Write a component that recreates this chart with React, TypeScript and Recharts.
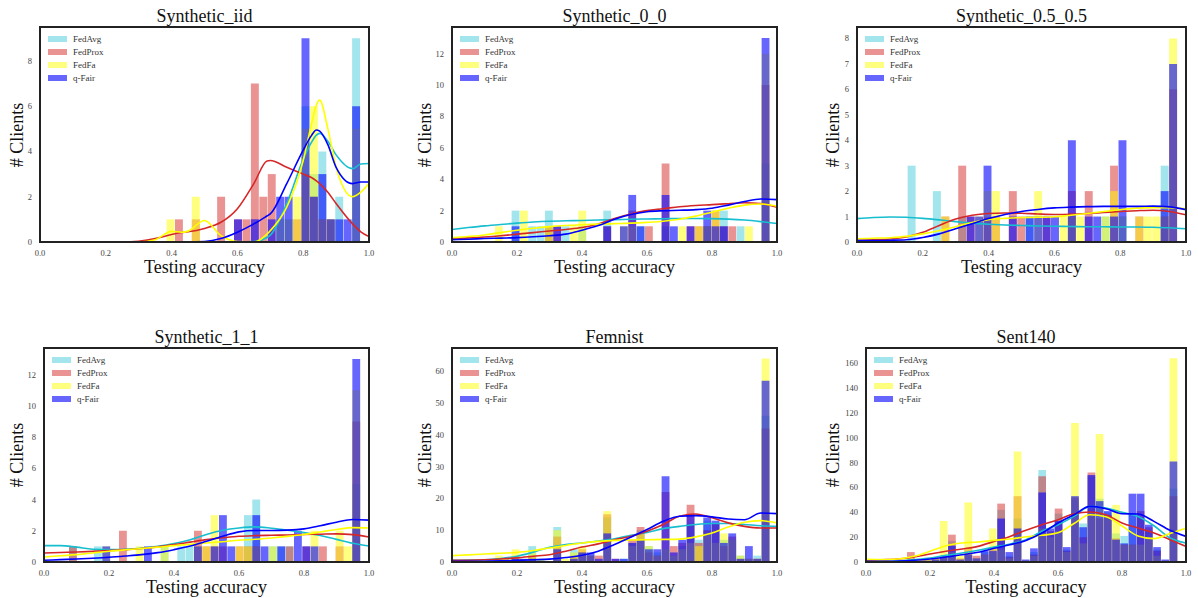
import React from 'react';
import { ComposedChart, Bar, Line, XAxis, YAxis } from 'recharts';

const SERIF = '"Liberation Serif", "DejaVu Serif", "Times New Roman", serif';
const SERIES = ['FedAvg', 'FedProx', 'FedFa', 'q-Fair'];
const KEYS = ['a', 'p', 'f', 'q'];
const COLORS = ['#17becf', '#d62728', '#ffff00', '#0000ff'];
const ALPHAS = [0.4, 0.5, 0.5, 0.6];
const X_TICKS = [0, 0.2, 0.4, 0.6, 0.8, 1.0];
const N_BINS = 39;
const BIN_W = 1 / N_BINS;

// ---------- Synthetic_iid ----------
const iidStart = 0;
const iidFedAvg = [0,0,0,0,0,0,0,0,0,0, 0,0,0,0,0,0,0,0,0,0, 0,0,0,0,0,0,0,0,1,1, 0,6,3,4,1,2,0,9,0];
const iidFedProx = [0,0,0,0,0,0,0,0,0,0, 0,0,0,0,0,0,1,0,1,0, 0,2,0,1,1,7,2,3,0,0, 1,3,2,1,1,0,0,0,0];
const iidFedFa = [0,0,0,0,0,0,0,0,0,0, 0,0,0,0,0,1,0,0,2,0, 0,0,0,0,0,0,0,0,1,1, 2,5,6,1,1,0,0,5,0];
const iidQFair = [0,0,0,0,0,0,0,0,0,0, 0,0,0,0,0,0,0,0,0,0, 0,0,0,1,0,1,0,1,2,2, 0,9,2,3,1,1,1,6,0];
const iidKdeX = [0,0.05,0.1,0.15,0.2,0.25,0.3,0.35,0.4,0.43,0.45,0.5,0.55,0.6,0.65,0.69,0.7,0.75,0.8,0.825,0.84,0.85,0.875,0.9,0.95,0.975,1.0];
const iidKdeAvg = [0,0,0,0,0,0,0,0,0,0,0,0,0,0,0.02,0.2,0.3,1.7,3.65,4.4,4.72,4.8,4.45,3.85,3.24,3.45,3.47];
const iidKdeProx = [0,0,0,0,0,0,0.03,0.15,0.33,0.42,0.45,0.6,0.87,1.47,2.58,3.58,3.6,3.3,3.0,2.85,2.7,2.58,2.2,1.7,0.8,0.45,0.24];
const iidKdeFa = [0,0,0,0,0,0,0,0.1,0.47,0.43,0.48,0.95,0.28,0.02,0,0.35,0.5,1.54,3.6,5.2,6.05,6.27,5.0,3.3,2.0,2.2,2.6];
const iidKdeQ = [0,0,0,0,0,0,0,0,0,0,0,0.02,0.15,0.43,0.8,1.15,1.24,2.58,4.06,4.7,4.95,4.9,4.3,3.3,2.58,2.65,2.65];

// ---------- Synthetic_0_0 ----------
const s00Start = 0.004;
const s00FedAvg = [0,0,0,0,0,0,0,2,0,1, 1,2,0,1,0,1,0,0,2,0, 0,0,1,0,0,1,0,0,0,0, 1,0,2,0,1,0,0,5,0];
const s00FedProx = [0,0,0,0,0,0,0,0,0,0, 0,1,1,0,0,0,0,0,1,0, 0,2,0,1,0,5,0,0,1,1, 1,2,1,1,0,0,0,10,0];
const s00FedFa = [0,0,0,0,0,1,0,0,2,0, 0,1,0,0,1,2,0,0,0,0, 1,1,0,0,0,0,0,1,0,1, 1,2,0,0,0,1,0,12,0];
const s00QFair = [0,0,0,0,0,0,0,1,0,0, 0,0,1,0,0,0,0,0,1,0, 1,3,1,0,0,3,1,0,1,0, 2,1,1,0,0,0,0,13,0];
const s00KdeX = [0,0.05,0.1,0.15,0.2,0.25,0.3,0.35,0.4,0.45,0.5,0.55,0.6,0.65,0.7,0.75,0.8,0.85,0.9,0.95,1.0];
const s00KdeAvg = [0.8,0.92,1.03,1.12,1.2,1.27,1.32,1.35,1.37,1.4,1.42,1.45,1.47,1.48,1.5,1.5,1.49,1.46,1.4,1.3,1.18];
const s00KdeProx = [0.22,0.26,0.32,0.4,0.5,0.6,0.7,0.8,0.92,1.15,1.5,1.78,2.0,2.12,2.25,2.33,2.38,2.44,2.5,2.45,2.22];
const s00KdeFa = [0.27,0.35,0.45,0.6,0.75,0.88,0.98,1.05,1.1,1.14,1.17,1.2,1.25,1.32,1.45,1.65,1.9,2.15,2.35,2.42,2.28];
const s00KdeQ = [0.15,0.18,0.22,0.25,0.28,0.33,0.4,0.5,0.75,1.05,1.45,1.75,1.93,1.99,2.02,2.06,2.15,2.35,2.58,2.74,2.7];

// ---------- Synthetic_0.5_0.5 ----------
const s55Start = 0;
const s55FedAvg = [0,0,0,0,0,0,3,0,0,2, 0,0,1,0,0,0,0,0,0,0, 1,0,0,0,0,1,0,0,0,1, 0,1,0,0,0,0,3,0,0];
const s55FedProx = [0,0,0,0,0,0,0,0,0,0, 1,0,3,1,0,1,1,0,2,1, 0,0,1,0,0,2,0,2,0,0, 3,0,0,1,0,0,1,6,0];
const s55FedFa = [0,0,0,0,0,0,0,0,0,0, 1,0,0,0,1,2,2,0,0,0, 0,2,0,0,1,1,1,0,0,1, 2,1,0,1,1,1,1,8,0];
const s55QFair = [0,0,0,0,0,0,0,0,0,0, 0,0,0,1,1,3,0,0,1,0, 1,1,1,1,0,4,0,1,1,0, 1,4,0,0,0,0,2,7,0];
const s55KdeX = [0,0.05,0.1,0.15,0.2,0.25,0.3,0.35,0.4,0.45,0.5,0.55,0.6,0.65,0.7,0.75,0.8,0.85,0.9,0.95,1.0];
const s55KdeAvg = [0.92,0.96,0.98,0.97,0.93,0.87,0.8,0.74,0.7,0.67,0.65,0.63,0.62,0.61,0.6,0.6,0.59,0.59,0.58,0.56,0.52];
const s55KdeProx = [0.07,0.09,0.12,0.2,0.38,0.65,0.9,1.05,1.12,1.14,1.13,1.1,1.08,1.09,1.12,1.16,1.2,1.23,1.25,1.2,1.07];
const s55KdeFa = [0.13,0.15,0.17,0.22,0.32,0.45,0.6,0.77,0.88,0.93,0.96,0.97,0.99,1.05,1.12,1.2,1.27,1.33,1.35,1.35,1.3];
const s55KdeQ = [0.06,0.06,0.07,0.09,0.18,0.32,0.52,0.72,0.92,1.08,1.2,1.28,1.34,1.37,1.39,1.4,1.4,1.4,1.41,1.38,1.27];

// ---------- Synthetic_1_1 ----------
const s11Start = 0;
const s11FedAvg = [0,0,0,1,0,0,1,0,0,0, 0,0,0,0,1,0,1,1,0,0, 0,0,0,0,3,4,0,1,1,1, 0,0,0,0,0,0,0,5,0];
const s11FedProx = [0,0,0,1,0,0,0,0,0,2, 0,0,0,0,0,0,0,0,2,1, 1,1,0,1,1,1,0,0,0,1, 0,1,0,1,0,1,0,9,0];
const s11FedFa = [0,0,0,0,0,0,0,1,0,0, 0,1,0,0,1,0,0,0,1,1, 3,0,0,1,1,1,0,1,0,0, 0,0,2,0,0,2,1,11,0];
const s11QFair = [0,0,0,0,0,0,0,1,0,0, 0,0,1,0,0,0,0,0,1,0, 1,3,1,0,0,3,1,0,1,0, 2,1,1,0,0,0,0,13,0];
const s11KdeX = [0,0.05,0.1,0.15,0.2,0.25,0.3,0.35,0.4,0.45,0.5,0.55,0.6,0.65,0.7,0.75,0.8,0.85,0.9,0.95,1.0];
const s11KdeAvg = [1.05,1.05,0.95,0.82,0.79,0.82,0.88,1.0,1.18,1.43,1.76,2.03,2.18,2.25,2.16,2.03,1.88,1.7,1.45,1.2,1.02];
const s11KdeProx = [0.58,0.61,0.64,0.68,0.73,0.79,0.86,0.97,1.11,1.27,1.43,1.55,1.65,1.69,1.71,1.73,1.76,1.78,1.8,1.75,1.6];
const s11KdeFa = [0.32,0.4,0.47,0.58,0.69,0.78,0.86,0.95,1.05,1.13,1.22,1.3,1.39,1.46,1.54,1.64,1.76,1.92,2.08,2.2,2.18];
const s11KdeQ = [0.11,0.15,0.19,0.24,0.3,0.38,0.47,0.6,0.79,1.02,1.33,1.65,1.93,2.02,2.02,2.04,2.12,2.32,2.55,2.72,2.68];

// ---------- Femnist ----------
const femStart = 0.004;
const femFedAvg = [0,0,0,0,0,1,0,2,0,5, 1,0,11,0,4,3,2,0,14,0, 1,6,10,5,3,4,2,5,12,7, 13,12,7,7,2,1,2,46,0];
const femFedProx = [0,0,0,0,0,0,0,1,0,2, 0,0,8,0,2,4,2,2,15,1, 0,7,11,3,2,22,5,6,18,6, 10,12,5,8,1,1,1,42,0];
const femFedFa = [0,0,0,0,0,2,1,4,1,3, 1,0,10,1,3,5,2,0,16,0, 0,5,9,5,2,4,2,4,6,5, 9,6,9,7,2,1,1,64,0];
const femQFair = [0,0,0,0,0,0,0,1,1,1, 0,0,4,0,1,3,3,1,9,1, 1,6,7,4,4,27,3,7,15,0, 14,13,6,9,1,5,1,57,0];
const femKdeX = [0,0.05,0.1,0.15,0.2,0.25,0.3,0.35,0.4,0.45,0.5,0.55,0.6,0.65,0.7,0.75,0.8,0.85,0.9,0.95,1.0];
const femKdeAvg = [0.5,0.6,0.7,1.1,1.8,3.1,4.6,5.5,6.0,6.6,7.3,8.4,9.3,10.5,11.2,11.8,12.1,12.1,11.8,11.4,11.2];
const femKdeProx = [0.5,0.55,0.7,0.95,1.3,1.8,2.3,3.4,4.7,5.7,7.0,8.1,9.7,11.8,14.4,15.1,13.9,12.3,11.2,10.7,10.7];
const femKdeFa = [2.0,2.25,2.5,2.75,3.0,3.6,4.4,5.2,6.0,6.5,6.8,6.9,7.0,7.1,7.2,7.9,9.1,11.0,12.5,13.0,12.3];
const femKdeQ = [0.2,0.2,0.25,0.35,0.5,0.7,0.9,1.4,2.1,3.4,5.5,7.8,10.2,12.8,14.4,14.6,14.2,13.5,13.3,15.4,15.2];

// ---------- Sent140 ----------
const sentStart = 0;
const sentFedAvg = [0,0,0,0,0,1,0,1,2,3, 17,0,5,2,8,8,42,5,35,1, 8,74,24,39,10,50,31,69,51,40, 23,21,38,36,25,10,1,59,0];
const sentFedProx = [0,0,0,0,0,8,2,2,3,4, 22,3,11,5,6,11,47,4,53,1, 6,69,25,43,9,52,20,72,35,38, 19,14,14,41,28,9,1,53,0];
const sentFedFa = [0,1,1,1,2,3,2,3,3,33, 8,5,48,3,6,27,10,3,89,1, 5,27,20,25,8,112,15,40,103,36, 46,14,14,14,20,5,1,164,0];
const sentQFair = [0,0,0,0,0,0,0,1,2,5, 13,2,6,3,9,9,35,8,27,2, 11,56,27,33,12,53,28,70,49,41, 18,15,55,55,30,12,2,81,0];
const sentKdeX = [0,0.05,0.1,0.15,0.2,0.25,0.3,0.35,0.4,0.45,0.5,0.55,0.6,0.65,0.7,0.75,0.8,0.85,0.9,0.95,1.0];
const sentKdeAvg = [0.5,0.6,0.8,1.9,3.2,5.4,7.2,9.4,12,14.5,18,24.7,30,36.7,44.8,43.4,40,36.7,29.2,19.3,15.3];
const sentKdeProx = [1.3,1.8,2.4,4.0,6.4,8.6,10.5,12.6,16.6,20.6,25.5,30,34,38.9,40.2,38,31.4,27.3,23.3,18,12.6];
const sentKdeFa = [2.1,1.9,2.4,4.6,8.6,13.1,15.3,16.1,17.4,18.5,20.3,21.5,23.5,31,38,36.5,29,21,18.8,23,27.3];
const sentKdeQ = [0.5,0.5,0.8,1.4,2.4,4.0,5.9,7.8,11,13.9,17.4,23.3,31.4,38,44.8,42.9,38.9,38.6,32.7,25.5,20.6];

const makeRows = (start: number, a: number[], p: number[], f: number[], q: number[]) =>
  a.map((_, i) => ({ x: start + (i + 0.5) * BIN_W, a: a[i], p: p[i], f: f[i], q: q[i] }));
const makeKde = (xs: number[], a: number[], p: number[], f: number[], q: number[]) =>
  xs.map((x, i) => ({ x, a: a[i], p: p[i], f: f[i], q: q[i] }));

const PANELS = [
  { title: 'Synthetic_iid', left: 40, top: 27, w: 329, h: 215, yMax: 9.5, yTicks: [0, 2, 4, 6, 8], yLab: -23,
    rows: makeRows(iidStart, iidFedAvg, iidFedProx, iidFedFa, iidQFair),
    kde: makeKde(iidKdeX, iidKdeAvg, iidKdeProx, iidKdeFa, iidKdeQ) },
  { title: 'Synthetic_0_0', left: 452, top: 27, w: 325, h: 215, yMax: 13.7, yTicks: [0, 2, 4, 6, 8, 10, 12], yLab: -27,
    rows: makeRows(s00Start, s00FedAvg, s00FedProx, s00FedFa, s00QFair),
    kde: makeKde(s00KdeX, s00KdeAvg, s00KdeProx, s00KdeFa, s00KdeQ) },
  { title: 'Synthetic_0.5_0.5', left: 857, top: 27, w: 329, h: 215, yMax: 8.45, yTicks: [0, 1, 2, 3, 4, 5, 6, 7, 8], yLab: -24,
    rows: makeRows(s55Start, s55FedAvg, s55FedProx, s55FedFa, s55QFair),
    kde: makeKde(s55KdeX, s55KdeAvg, s55KdeProx, s55KdeFa, s55KdeQ) },
  { title: 'Synthetic_1_1', left: 44, top: 348, w: 325, h: 214, yMax: 13.7, yTicks: [0, 2, 4, 6, 8, 10, 12], yLab: -27,
    rows: makeRows(s11Start, s11FedAvg, s11FedProx, s11FedFa, s11QFair),
    kde: makeKde(s11KdeX, s11KdeAvg, s11KdeProx, s11KdeFa, s11KdeQ) },
  { title: 'Femnist', left: 452, top: 348, w: 325, h: 214, yMax: 67.3, yTicks: [0, 10, 20, 30, 40, 50, 60], yLab: -27,
    rows: makeRows(femStart, femFedAvg, femFedProx, femFedFa, femQFair),
    kde: makeKde(femKdeX, femKdeAvg, femKdeProx, femKdeFa, femKdeQ) },
  { title: 'Sent140', left: 866, top: 348, w: 320, h: 214, yMax: 172.3, yTicks: [0, 20, 40, 60, 80, 100, 120, 140, 160], yLab: -33,
    rows: makeRows(sentStart, sentFedAvg, sentFedProx, sentFedFa, sentQFair),
    kde: makeKde(sentKdeX, sentKdeAvg, sentKdeProx, sentKdeFa, sentKdeQ) },
];

const tickStyle = { fontSize: 8.5, fill: '#444', fontFamily: SERIF };

function Panel({ cfg }: { cfg: any }) {
  const { title, left, top, w, h, yMax, yTicks, yLab, rows, kde } = cfg;
  const barSize = (w * BIN_W) - 0.5;
  return (
    <>
      <div style={{ position: 'absolute', left: left - 40, top: top - 10 }}>
        <ComposedChart width={w + 52} height={h + 32} data={rows} margin={{ top: 10, right: 12, bottom: 0, left: 0 }}>
          {KEYS.map((id, i) => (
            <XAxis
              key={id}
              xAxisId={id}
              dataKey="x"
              type="number"
              domain={[0, 1]}
              allowDataOverflow
              hide={i > 0}
              ticks={X_TICKS}
              interval={0}
              tickFormatter={(v: number) => v.toFixed(1)}
              axisLine={false}
              tickLine={false}
              tick={tickStyle}
              height={22}
            />
          ))}
          <XAxis xAxisId="k" dataKey="x" type="number" domain={[0, 1]} allowDataOverflow hide />
          <YAxis
            domain={[0, yMax]}
            allowDataOverflow
            ticks={yTicks}
            interval={0}
            axisLine={false}
            tickLine={false}
            tick={tickStyle}
            width={40}
          />
          {KEYS.map((k, i) => (
            <Bar
              key={'b' + k}
              xAxisId={k}
              dataKey={k}
              fill={COLORS[i]}
              fillOpacity={ALPHAS[i]}
              barSize={barSize}
              isAnimationActive={false}
            />
          ))}
          {KEYS.map((k, i) => (
            <Line
              key={'l' + k}
              xAxisId="k"
              data={kde}
              dataKey={k}
              type="monotone"
              stroke={COLORS[i]}
              strokeWidth={1.6}
              dot={false}
              activeDot={false}
              isAnimationActive={false}
            />
          ))}
        </ComposedChart>
      </div>
      {/* frame */}
      <div style={{ position: 'absolute', left: left - 1, top: top - 1, width: w + 2, height: h + 2, border: '2px solid #222', boxSizing: 'border-box', pointerEvents: 'none' }} />
      {/* title */}
      <div style={{ position: 'absolute', left, top: top - 21, width: w, textAlign: 'center', fontFamily: SERIF, fontSize: 18, lineHeight: '20px', color: '#111' }}>{title}</div>
      {/* x label */}
      <div style={{ position: 'absolute', left, top: top + h + 15, width: w, textAlign: 'center', fontFamily: SERIF, fontSize: 18, lineHeight: '20px', color: '#111' }}>Testing accuracy</div>
      {/* y label */}
      <div style={{ position: 'absolute', left: left + yLab - 60, top: top + h / 2 - 10, width: 120, height: 20, textAlign: 'center', fontFamily: SERIF, fontSize: 18, lineHeight: '20px', color: '#111', transform: 'rotate(-90deg)' }}># Clients</div>
      {/* legend */}
      {SERIES.map((s, i) => (
        <React.Fragment key={s}>
          <div style={{ position: 'absolute', left: left + 8, top: top + 9.4 + i * 12.8, width: 19, height: 6, background: COLORS[i], opacity: ALPHAS[i] }} />
          <div style={{ position: 'absolute', left: left + 33, top: top + 6.4 + i * 12.8, fontFamily: SERIF, fontSize: 9, lineHeight: '12px', color: '#333', whiteSpace: 'nowrap' }}>{s}</div>
        </React.Fragment>
      ))}
    </>
  );
}

export default function App() {
  return (
    <div style={{ position: 'absolute', left: 0, top: 0, width: 1198, height: 598, background: '#fff', overflow: 'hidden' }}>
      {PANELS.map((p) => (
        <Panel key={p.title} cfg={p} />
      ))}
    </div>
  );
}
